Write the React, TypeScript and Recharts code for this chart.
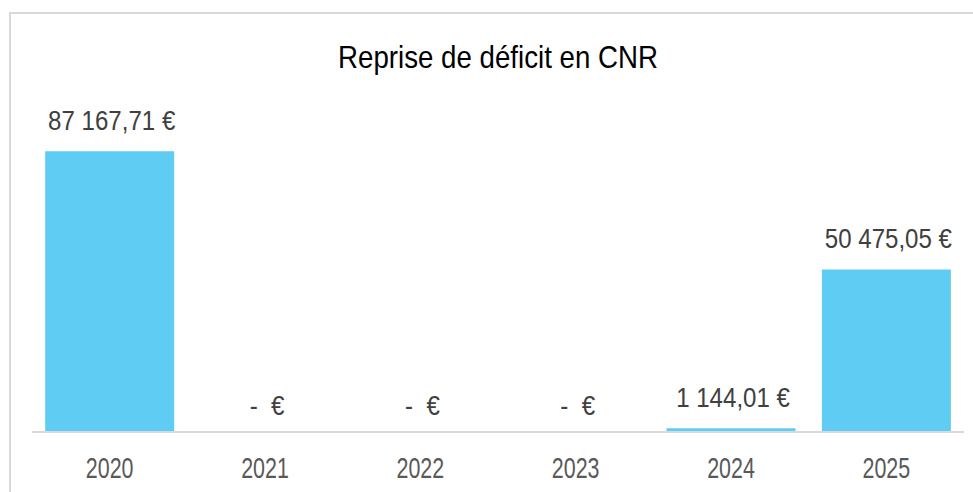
import React from 'react';
import { BarChart, Bar, XAxis, YAxis, LabelList } from 'recharts';

const categories = ['2020', '2021', '2022', '2023', '2024', '2025'];
const values = [87167.71, 0, 0, 0, 1144.01, 50475.05];
const title = 'Reprise de déficit en CNR';

const data = categories.map((c, i) => ({ year: c, value: values[i] }));

const FONT = '"Liberation Sans", Arial, sans-serif';

function formatEuro(v: number): string {
  if (v === 0) return '-  €';
  const [intPart, dec] = v.toFixed(2).split('.');
  const grouped = intPart.replace(/\B(?=(\d{3})+(?!\d))/g, ' ');
  return `${grouped},${dec} €`;
}

const renderLabel = (props: any) => {
  const vb = props.viewBox || {};
  const x = props.x ?? vb.x;
  const y = props.y ?? vb.y;
  const width = props.width ?? vb.width;
  const value = Number(props.value);
  const isZero = Math.abs(value) < 1e-9;
  const cx = Number(x) + Number(width) / 2 + (isZero ? 2 : 2);
  const baseline = Number(y) - (isZero ? 17 : 21);
  return (
    <text
      transform={`translate(${cx},${baseline}) scale(0.86,1)`}
      x={0}
      y={0}
      textAnchor="middle"
      fill="#404040"
      fontSize={28}
      fontFamily={FONT}
      style={{ whiteSpace: 'pre' }}
    >
      {formatEuro(value)}
    </text>
  );
};

const renderTick = (props: any) => {
  const { x, y, payload } = props;
  return (
    <text
      transform={`translate(${x},${Number(y) + 20.5}) scale(0.74,1)`}
      x={0}
      y={0}
      textAnchor="middle"
      fill="#595959"
      fontSize={29}
      fontFamily={FONT}
    >
      {payload.value}
    </text>
  );
};

export default function App() {
  return (
    <div style={{ position: 'absolute', left: 0, top: 0, width: 973, height: 492, background: '#fff' }}>
      <div
        style={{
          position: 'absolute',
          left: 9,
          top: 12,
          width: 962,
          height: 478,
          borderLeft: '2px solid #d9d9d9',
          borderTop: '2px solid #d9d9d9',
        }}
      />
      <div style={{ position: 'absolute', left: 0, top: 0 }}>
        <BarChart
          width={973}
          height={492}
          data={data}
          margin={{ top: 110, right: 9, left: 32, bottom: 0 }}
          barCategoryGap="8.5%"
        >
          <XAxis
            dataKey="year"
            height={60}
            tickLine={false}
            tickSize={0}
            tickMargin={25}
            axisLine={{ stroke: '#d9d9d9', strokeWidth: 2 }}
            tick={renderTick}
            interval={0}
          />
          <YAxis hide domain={[0, 100000]} />
          <Bar dataKey="value" fill="#5ECCF3" isAnimationActive={false} minPointSize={0.01}>
            <LabelList dataKey="value" content={renderLabel} />
          </Bar>
        </BarChart>
      </div>
      <svg width={973} height={492} style={{ position: 'absolute', left: 0, top: 0, pointerEvents: 'none' }}>
        <text
          transform="translate(498,68) scale(0.865,1)"
          x={0}
          y={0}
          textAnchor="middle"
          fill="#000"
          fontSize={32}
          fontFamily={FONT}
        >
          {title}
        </text>
      </svg>
    </div>
  );
}
